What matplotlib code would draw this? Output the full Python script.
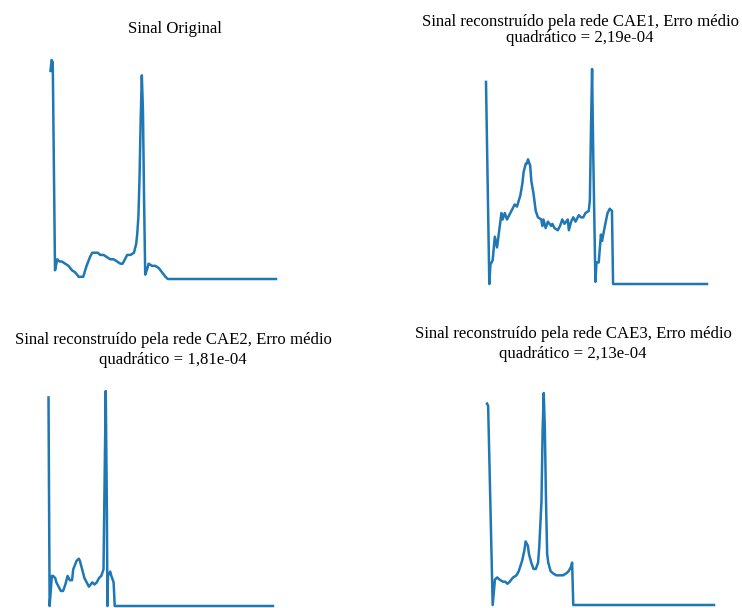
import matplotlib
matplotlib.use("Agg")
import matplotlib.pyplot as plt

# Sinal Original
t_orig = [0, 1, 2, 4, 6, 8, 10, 13, 16, 19, 22, 25, 27, 29, 32, 35, 37, 40, 42, 44, 47, 50,
          53, 56, 59, 62, 64, 66, 68, 71, 74, 76, 77, 78, 79, 80, 81, 82, 83, 84, 86, 87, 90,
          93, 96, 99, 102, 104, 200]
y_orig = [0.95, 1.00, 0.99, 0.04, 0.09, 0.08, 0.08, 0.07, 0.06, 0.04, 0.03, 0.01, 0.01, 0.01,
          0.06, 0.10, 0.12, 0.12, 0.12, 0.11, 0.11, 0.10, 0.09, 0.09, 0.08, 0.07, 0.07, 0.09,
          0.11, 0.11, 0.12, 0.16, 0.21, 0.29, 0.47, 0.73, 0.93, 0.77, 0.36, 0.02, 0.05, 0.07,
          0.06, 0.06, 0.05, 0.03, 0.01, 0.0, 0.0]

# CAE1
t_cae1 = [0, 3, 4, 6, 8, 10, 12, 14, 15, 17, 19, 21, 23, 26, 28, 31, 33, 34, 36, 37, 38, 40,
          41, 43, 45, 47, 50, 51, 52, 54, 56, 59, 60, 62, 65, 67, 69, 71, 74, 75, 77, 79, 81,
          84, 86, 88, 90, 93, 94, 95, 96, 97, 99, 100, 102, 104, 105, 108, 110, 112, 114, 115,
          200]
y_cae1 = [0.94, 0.0, 0.09, 0.11, 0.22, 0.17, 0.25, 0.33, 0.30, 0.33, 0.30, 0.32, 0.34, 0.37,
          0.36, 0.41, 0.47, 0.52, 0.56, 0.56, 0.58, 0.55, 0.48, 0.42, 0.34, 0.31, 0.30, 0.27,
          0.30, 0.26, 0.29, 0.27, 0.28, 0.26, 0.25, 0.27, 0.30, 0.28, 0.30, 0.25, 0.29, 0.31,
          0.29, 0.32, 0.31, 0.31, 0.33, 0.34, 0.39, 0.72, 1.00, 0.62, 0.01, 0.10, 0.10, 0.23,
          0.20, 0.28, 0.33, 0.35, 0.34, 0.0, 0.0]

# CAE2
t_cae2 = [0, 1, 3, 4, 6, 7, 9, 11, 13, 15, 17, 19, 21, 22, 25, 27, 28, 30, 32, 34, 36, 39,
          41, 43, 45, 47, 49, 50, 51, 52, 52.5, 53, 55, 56, 58, 59, 200]
y_cae2 = [0.97, 0.0, 0.14, 0.14, 0.13, 0.11, 0.09, 0.07, 0.07, 0.10, 0.14, 0.12, 0.12, 0.17,
          0.21, 0.22, 0.21, 0.17, 0.13, 0.11, 0.09, 0.11, 0.10, 0.11, 0.13, 0.14, 0.17, 0.59,
          1.00, 0.45, 0.0, 0.14, 0.16, 0.14, 0.11, 0.0, 0.0]

# CAE3
t_cae3 = [0, 1, 5, 7, 9, 11, 14, 16, 18, 20, 23, 26, 28, 31, 33, 34, 36, 37, 39, 41, 43, 45,
          46, 48, 49, 50, 51, 52, 53, 54, 56, 58, 61, 64, 67, 70, 72, 74, 75, 76, 200]
y_cae3 = [0.95, 0.94, 0.0, 0.12, 0.13, 0.12, 0.11, 0.11, 0.10, 0.11, 0.13, 0.14, 0.16, 0.21,
          0.26, 0.30, 0.28, 0.24, 0.20, 0.17, 0.17, 0.20, 0.27, 0.49, 0.82, 1.00, 0.82, 0.49,
          0.24, 0.20, 0.16, 0.15, 0.14, 0.14, 0.14, 0.15, 0.16, 0.18, 0.20, 0.0, 0.0]

titles = [
    "Sinal Original",
    "Sinal reconstruído pela rede CAE1, Erro médio\nquadrático = 2,19e-04",
    "Sinal reconstruído pela rede CAE2, Erro médio\nquadrático = 1,81e-04",
    "Sinal reconstruído pela rede CAE3, Erro médio\nquadrático = 2,13e-04",
]

W, H = 742, 608
fig = plt.figure(figsize=(W / 100, H / 100), dpi=100)

# pixel boxes of each signal (left, top, right, bottom) and title centres
boxes = [(50.5, 60, 276, 279), (486, 69, 707, 284), (48.5, 391, 273, 606), (487, 393, 714, 605)]
title_pos = [(175, 29, 1.0), (580, 30, 1.08), (173, 350, 1.29), (573, 344, 1.29)]
series = [(t_orig, y_orig), (t_cae1, y_cae1), (t_cae2, y_cae2), (t_cae3, y_cae3)]

for (l, t, r, b), (tx, ty, ls), (x, y), title in zip(boxes, title_pos, series, titles):
    ax = fig.add_axes([l / W, 1 - b / H, (r - l) / W, (b - t) / H])
    ax.plot(x, y, color="#1f77b4", lw=1.8, clip_on=False)
    ax.set_xlim(0, 200)
    ax.set_ylim(0, 1)
    ax.axis("off")
    fig.text(tx / W, 1 - ty / H, title, ha="center", va="center", family="Liberation Serif",
             fontsize=12.1, linespacing=ls)

plt.savefig("out.png", dpi=100)
